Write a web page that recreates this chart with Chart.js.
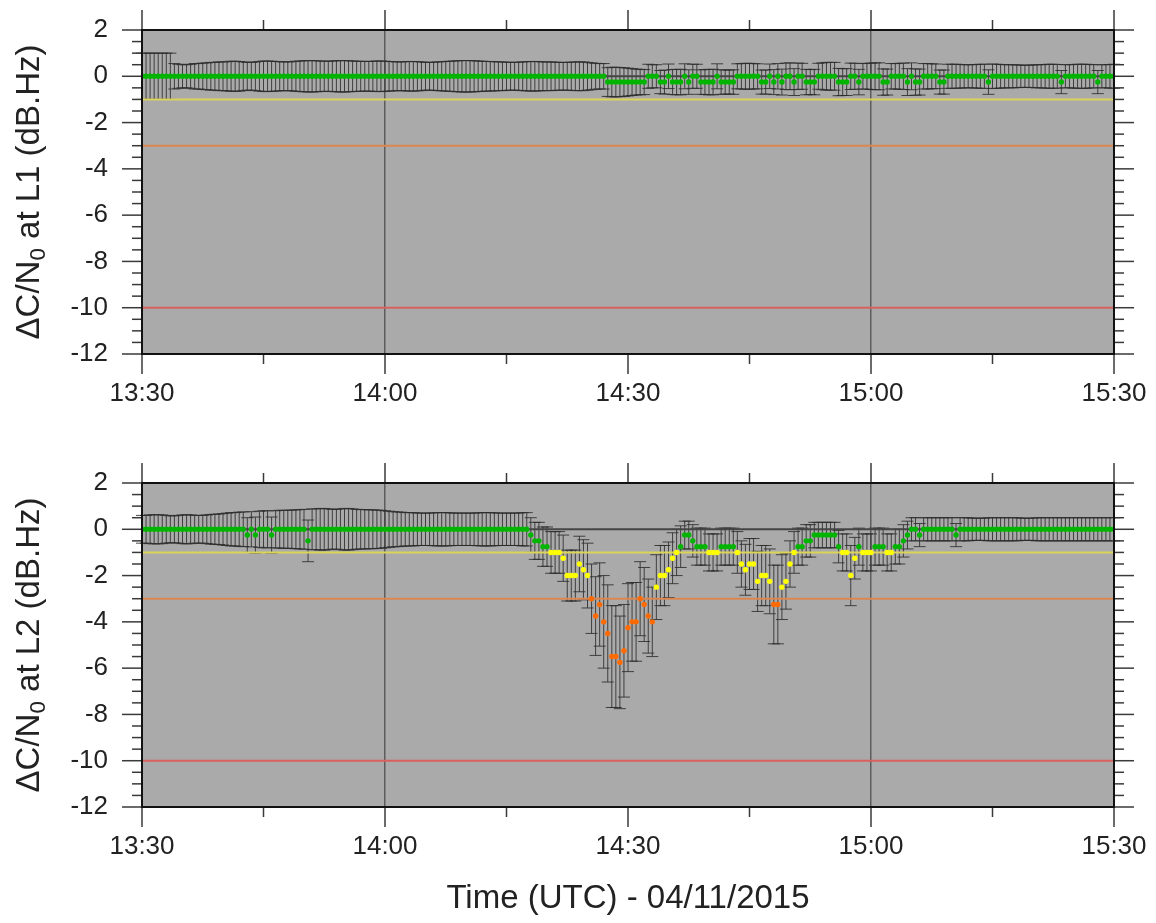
<!DOCTYPE html>
<html>
<head>
<meta charset="utf-8">
<script src="https://cdn.jsdelivr.net/npm/chart.js@4.4.0/dist/chart.umd.min.js"></script>
<style>
  body { margin: 0; background: #fff; }
  #wrap { position: relative; width: 1156px; height: 923px; background: #fff; font-family: "Liberation Sans", Arial, sans-serif; color: #222; }
  canvas { position: absolute; left: 0; }
  .ytitle { position: absolute; white-space: nowrap; font-size: 33px; transform: translate(-50%, -50%) rotate(-90deg); }
  .ytitle sub { font-size: 0.68em; vertical-align: -0.25em; }
  #xtitle { position: absolute; white-space: nowrap; font-size: 33px; transform: translate(-50%, -50%); left: 628px; top: 897px; }
</style>
</head>
<body>
<div id="wrap">
  <canvas id="l1Chart" width="1156" height="440" style="top:0"></canvas>
  <canvas id="l2Chart" width="1156" height="440" style="top:453px"></canvas>
  <div class="ytitle" style="left:30px; top:192px">ΔC/N<sub>0</sub> at L1 (dB.Hz)</div>
  <div class="ytitle" style="left:30px; top:645px">ΔC/N<sub>0</sub> at L2 (dB.Hz)</div>
  <div id="xtitle">Time (UTC) - 04/11/2015</div>
</div>
<script>
// minutes after 13:30 for the tick marks, one sample every 30 s
const timeLabels = ['13:30', '14:00', '14:30', '15:00', '15:30'];
const xMajor = [0, 30, 60, 90, 120];
const xMinor = [15, 45, 75, 105];
const gridTimes = [30, 90];
const yMajor = [-12, -10, -8, -6, -4, -2, 0, 2];
const thresholds = [-1, -3, -10];
const thresholdColors = ['#dcd45a', '#db8650', '#d9605e'];

// L1 C/N0 drop (dB.Hz)
const l1Vals = [
  0, 0, 0, 0, 0, 0, 0, 0, 0, 0, 0, 0, 0, 0, 0, 0, 0, 0, 0, 0,
  0, 0, 0, 0, 0, 0, 0, 0, 0, 0, 0, 0, 0, 0, 0, 0, 0, 0, 0, 0,
  0, 0, 0, 0, 0, 0, 0, 0, 0, 0, 0, 0, 0, 0, 0, 0, 0, 0, 0, 0,
  0, 0, 0, 0, 0, 0, 0, 0, 0, 0, 0, 0, 0, 0, 0, 0, 0, 0, 0, 0,
  0, 0, 0, 0, 0, 0, 0, 0, 0, 0, 0, 0, 0, 0, 0, 0, 0, 0, 0, 0,
  0, 0, 0, 0, 0, 0, 0, 0, 0, 0, 0, 0, 0, 0, 0, -0.25, -0.25, -0.25, -0.25, -0.25,
  -0.25, -0.25, -0.25, -0.25, -0.25, 0, 0, 0, -0.25, -0.25, 0, -0.25, -0.25, -0.25, 0, -0.25, 0, 0, -0.25, -0.25,
  -0.25, -0.25, 0, -0.25, -0.25, -0.25, -0.25, 0, 0, 0, 0, 0, 0, -0.25, -0.25, 0, -0.25, 0, -0.25, 0,
  0, -0.25, 0, 0, -0.25, -0.25, -0.25, 0, 0, 0, 0, 0, -0.25, -0.25, -0.25, 0, 0, -0.25, 0, 0,
  0, 0, 0, -0.25, -0.25, 0, 0, 0, 0, -0.25, 0, -0.25, -0.25, 0, 0, 0, 0, -0.25, -0.25, 0,
  0, 0, 0, 0, 0, 0, 0, 0, 0, -0.25, 0, 0, 0, 0, 0, 0, 0, 0, 0, 0,
  0, 0, 0, 0, 0, 0, 0, -0.25, 0, 0, 0, 0, 0, 0, 0, 0, -0.25, 0, 0, 0,
  0
];
const l1Err = [
  1.0, 1.0, 1.0, 1.0, 1.0, 1.0, 1.0, 1.0, 0.55, 0.52, 0.5, 0.5, 0.52, 0.55, 0.55, 0.57, 0.58, 0.6, 0.6, 0.62,
  0.62, 0.63, 0.65, 0.65, 0.64, 0.62, 0.6, 0.6, 0.62, 0.64, 0.66, 0.66, 0.65, 0.64, 0.63, 0.62, 0.62, 0.63, 0.65, 0.66,
  0.67, 0.68, 0.68, 0.67, 0.66, 0.65, 0.65, 0.66, 0.67, 0.68, 0.68, 0.67, 0.66, 0.65, 0.65, 0.64, 0.64, 0.65, 0.66, 0.66,
  0.65, 0.64, 0.63, 0.62, 0.62, 0.63, 0.64, 0.64, 0.63, 0.62, 0.6, 0.6, 0.61, 0.62, 0.63, 0.64, 0.65, 0.66, 0.67, 0.68,
  0.68, 0.68, 0.67, 0.66, 0.65, 0.64, 0.64, 0.63, 0.62, 0.62, 0.61, 0.6, 0.6, 0.61, 0.62, 0.63, 0.64, 0.64, 0.63, 0.62,
  0.62, 0.62, 0.61, 0.6, 0.6, 0.6, 0.61, 0.62, 0.62, 0.62, 0.6, 0.58, 0.56, 0.55, 0.55, 0.62, 0.64, 0.64, 0.63, 0.62,
  0.6, 0.58, 0.56, 0.55, 0.54, 0.52, 0.5, 0.5, 0.5, 0.52, 0.53, 0.54, 0.55, 0.55, 0.54, 0.53, 0.52, 0.52, 0.53, 0.54,
  0.55, 0.55, 0.54, 0.53, 0.52, 0.52, 0.53, 0.54, 0.55, 0.56, 0.56, 0.55, 0.54, 0.52, 0.52, 0.53, 0.54, 0.55, 0.56, 0.57,
  0.58, 0.58, 0.57, 0.56, 0.55, 0.54, 0.55, 0.56, 0.58, 0.6, 0.6, 0.6, 0.59, 0.58, 0.58, 0.57, 0.56, 0.55, 0.55, 0.56,
  0.57, 0.58, 0.58, 0.57, 0.56, 0.55, 0.55, 0.56, 0.57, 0.58, 0.58, 0.57, 0.56, 0.55, 0.55, 0.54, 0.53, 0.52, 0.52, 0.52,
  0.52, 0.52, 0.51, 0.5, 0.5, 0.5, 0.51, 0.52, 0.52, 0.53, 0.53, 0.52, 0.51, 0.5, 0.5, 0.5, 0.49, 0.48, 0.48, 0.48,
  0.49, 0.5, 0.5, 0.51, 0.52, 0.52, 0.51, 0.5, 0.5, 0.5, 0.51, 0.52, 0.52, 0.52, 0.51, 0.5, 0.5, 0.5, 0.5, 0.51,
  0.52
];

// L2 C/N0 drop (dB.Hz)
const l2Vals = [
  0, 0, 0, 0, 0, 0, 0, 0, 0, 0, 0, 0, 0, 0, 0, 0, 0, 0, 0, 0,
  0, 0, 0, 0, 0, 0, -0.25, 0, -0.25, 0, 0, 0, -0.25, 0, 0, 0, 0, 0, 0, 0,
  0, -0.5, 0, 0, 0, 0, 0, 0, 0, 0, 0, 0, 0, 0, 0, 0, 0, 0, 0, 0,
  0, 0, 0, 0, 0, 0, 0, 0, 0, 0, 0, 0, 0, 0, 0, 0, 0, 0, 0, 0,
  0, 0, 0, 0, 0, 0, 0, 0, 0, 0, 0, 0, 0, 0, 0, 0, -0.25, -0.5, -0.5, -0.75,
  -0.75, -1, -1, -1, -1.25, -2, -2, -2, -1.5, -1.75, -2, -3, -3.75, -3.25, -4, -4.5, -5.5, -5.5, -5.75, -5.25,
  -4.25, -4, -4, -3, -3.25, -3.75, -4, -2.5, -2, -2, -1.75, -1.25, -1, -0.75, -0.25, -0.25, -0.5, -0.75, -0.75, -0.75,
  -1, -1, -1, -0.75, -0.75, -0.75, -0.75, -1, -1.5, -1.75, -1.5, -1.5, -2.25, -2, -2, -2.25, -3.25, -3.25, -2.5, -2.25,
  -1.5, -1, -0.75, -0.75, -0.5, -0.5, -0.25, -0.25, -0.25, -0.25, -0.25, -0.25, -0.75, -1, -1, -2, -1.25, -0.75, -1, -1,
  -1, -0.75, -0.75, -0.75, -1, -1, -0.75, -0.75, -0.5, -0.25, 0, 0, -0.25, 0, 0, 0, 0, 0, 0, 0,
  0, -0.25, 0, 0, 0, 0, 0, 0, 0, 0, 0, 0, 0, 0, 0, 0, 0, 0, 0, 0,
  0, 0, 0, 0, 0, 0, 0, 0, 0, 0, 0, 0, 0, 0, 0, 0, 0, 0, 0, 0,
  0
];
const l2Err = [
  0.6, 0.6, 0.62, 0.63, 0.63, 0.62, 0.6, 0.58, 0.58, 0.6, 0.62, 0.63, 0.62, 0.6, 0.6, 0.6, 0.62, 0.64, 0.65, 0.66,
  0.68, 0.7, 0.72, 0.72, 0.74, 0.75, 0.75, 0.76, 0.78, 0.78, 0.8, 0.8, 0.78, 0.8, 0.82, 0.82, 0.82, 0.83, 0.84, 0.85,
  0.86, 0.9, 0.88, 0.88, 0.9, 0.9, 0.88, 0.86, 0.86, 0.88, 0.9, 0.9, 0.88, 0.86, 0.85, 0.85, 0.84, 0.84, 0.83, 0.82,
  0.8, 0.78, 0.76, 0.75, 0.74, 0.72, 0.72, 0.72, 0.7, 0.7, 0.7, 0.7, 0.71, 0.72, 0.72, 0.72, 0.71, 0.7, 0.7, 0.7,
  0.7, 0.7, 0.7, 0.71, 0.72, 0.72, 0.72, 0.71, 0.7, 0.7, 0.7, 0.7, 0.7, 0.7, 0.72, 0.72, 0.75, 0.8, 0.8, 0.85,
  0.85, 0.9, 0.9, 0.9, 1.0, 1.1, 1.1, 1.1, 1.2, 1.3, 1.4, 1.5, 1.7, 1.8, 2.0, 2.1, 2.2, 2.2, 2.0, 2.0,
  1.9, 1.7, 1.7, 1.6, 1.6, 1.6, 1.5, 1.4, 1.3, 1.3, 1.2, 1.1, 1.0, 0.9, 0.6, 0.6, 0.7, 0.8, 0.8, 0.8,
  0.8, 0.8, 0.8, 0.8, 0.8, 0.8, 0.8, 0.9, 1.0, 1.1, 1.1, 1.1, 1.3, 1.3, 1.3, 1.4, 1.7, 1.7, 1.4, 1.2,
  1.0, 0.9, 0.8, 0.8, 0.7, 0.7, 0.55, 0.55, 0.55, 0.55, 0.55, 0.55, 0.7, 0.8, 0.8, 1.3, 0.9, 0.8, 0.8, 0.8,
  0.8, 0.8, 0.8, 0.8, 0.8, 0.8, 0.75, 0.75, 0.7, 0.6, 0.5, 0.5, 0.5, 0.5, 0.5, 0.5, 0.5, 0.5, 0.5, 0.5,
  0.5, 0.5, 0.5, 0.5, 0.5, 0.48, 0.48, 0.48, 0.48, 0.5, 0.5, 0.5, 0.5, 0.5, 0.5, 0.5, 0.5, 0.48, 0.48, 0.48,
  0.48, 0.5, 0.5, 0.5, 0.5, 0.5, 0.5, 0.5, 0.5, 0.5, 0.5, 0.5, 0.5, 0.5, 0.5, 0.5, 0.5, 0.5, 0.5, 0.5,
  0.5
];

const times = l1Vals.map((_, i) => i * 0.5);
const font = { family: '"Liberation Sans", Arial, sans-serif', size: 26 };

function levelColor(v) {
  if (v > -1) return '#00b400';
  if (v > -3) return '#ffff00';
  return '#ff6a00';
}

// no label overflow padding, so the plot box lands where the layout says
function noOverflow(s) {
  s.paddingTop = 0; s.paddingBottom = 0; s.paddingLeft = 0; s.paddingRight = 0;
}

const panelDecor = {
  id: 'panelDecor',
  beforeDraw(chart) {
    const a = chart.chartArea, ctx = chart.ctx;
    ctx.save();
    ctx.fillStyle = '#aaaaaa';
    ctx.fillRect(a.left, a.top, a.width, a.height);
    ctx.restore();
  },
  beforeDatasetsDraw(chart, args, opts) {
    const ctx = chart.ctx, xs = chart.scales.x, ys = chart.scales.y;
    ctx.save();
    ctx.strokeStyle = 'rgba(45,45,45,0.85)';
    ctx.lineWidth = 1;
    opts.vals.forEach((v, i) => {
      const px = xs.getPixelForValue(times[i]);
      const top = ys.getPixelForValue(v + opts.errs[i]);
      const bot = ys.getPixelForValue(v - opts.errs[i]);
      ctx.beginPath();
      ctx.moveTo(px, top); ctx.lineTo(px, bot);
      ctx.moveTo(px - 6, top); ctx.lineTo(px + 6, top);
      ctx.moveTo(px - 6, bot); ctx.lineTo(px + 6, bot);
      ctx.stroke();
    });
    ctx.restore();
  },
  afterDraw(chart) {
    const a = chart.chartArea, ctx = chart.ctx, xs = chart.scales.x, ys = chart.scales.y;
    ctx.save();
    ctx.strokeStyle = '#3a3a3a';
    ctx.lineWidth = 1.5;
    const tick = (x1, y1, x2, y2) => { ctx.beginPath(); ctx.moveTo(x1, y1); ctx.lineTo(x2, y2); ctx.stroke(); };
    xMajor.forEach(v => { const p = xs.getPixelForValue(v); tick(p, a.top, p, a.top - 20); tick(p, a.bottom, p, a.bottom + 20); });
    xMinor.forEach(v => { const p = xs.getPixelForValue(v); tick(p, a.top, p, a.top - 10); tick(p, a.bottom, p, a.bottom + 10); });
    for (let v = ys.min; v <= ys.max; v += 0.5) {
      const len = yMajor.includes(v) ? 20 : 10;
      const p = ys.getPixelForValue(v);
      tick(a.left, p, a.left - len, p);
      tick(a.right, p, a.right + len, p);
    }
    ctx.strokeStyle = '#111';
    ctx.lineWidth = 2;
    ctx.strokeRect(a.left, a.top, a.width, a.height);
    ctx.restore();
  }
};

function makePanel(id, vals, errs) {
  const datasets = [{
    type: 'scatter',
    data: times.map((t, i) => ({ x: t, y: vals[i] })),
    pointBackgroundColor: vals.map(levelColor),
    pointBorderWidth: 0,
    pointRadius: 2.7,
    order: 0
  }];
  thresholds.forEach((th, k) => {
    datasets.push({
      type: 'line',
      data: [{ x: xMajor[0], y: th }, { x: xMajor[xMajor.length - 1], y: th }],
      borderColor: thresholdColors[k],
      borderWidth: 2,
      pointRadius: 0,
      order: 1
    });
  });
  datasets.push({
    type: 'line',
    data: [{ x: xMajor[0], y: 0 }, { x: xMajor[xMajor.length - 1], y: 0 }],
    borderColor: '#454545',
    borderWidth: 2,
    pointRadius: 0,
    order: 2
  });

  return new Chart(document.getElementById(id), {
    type: 'scatter',
    data: { datasets },
    options: {
      responsive: false,
      animation: false,
      layout: { padding: { top: 30, right: 42, bottom: 0, left: 0 } },
      plugins: {
        legend: { display: false },
        tooltip: { enabled: false },
        panelDecor: { vals, errs }
      },
      scales: {
        x: {
          type: 'linear',
          min: 0,
          max: 120,
          afterFit: s => { s.height = 86; noOverflow(s); },
          afterBuildTicks: s => { s.ticks = xMajor.map(v => ({ value: v })); },
          ticks: {
            callback: v => timeLabels[xMajor.indexOf(v)],
            font, color: '#222', padding: 24, maxRotation: 0, autoSkip: false
          },
          grid: {
            color: c => gridTimes.includes(c.tick && c.tick.value) ? '#5c5c5c' : 'transparent',
            lineWidth: 1.5,
            drawTicks: false
          },
          border: { display: false }
        },
        y: {
          min: -12,
          max: 2,
          afterFit: s => { s.width = 142; noOverflow(s); },
          afterBuildTicks: s => { s.ticks = yMajor.map(v => ({ value: v })); },
          ticks: { callback: v => String(v), font, color: '#222', padding: 34 },
          grid: { display: false, drawTicks: false },
          border: { display: false }
        }
      }
    },
    plugins: [panelDecor]
  });
}

makePanel('l1Chart', l1Vals, l1Err);
makePanel('l2Chart', l2Vals, l2Err);
</script>
</body>
</html>
